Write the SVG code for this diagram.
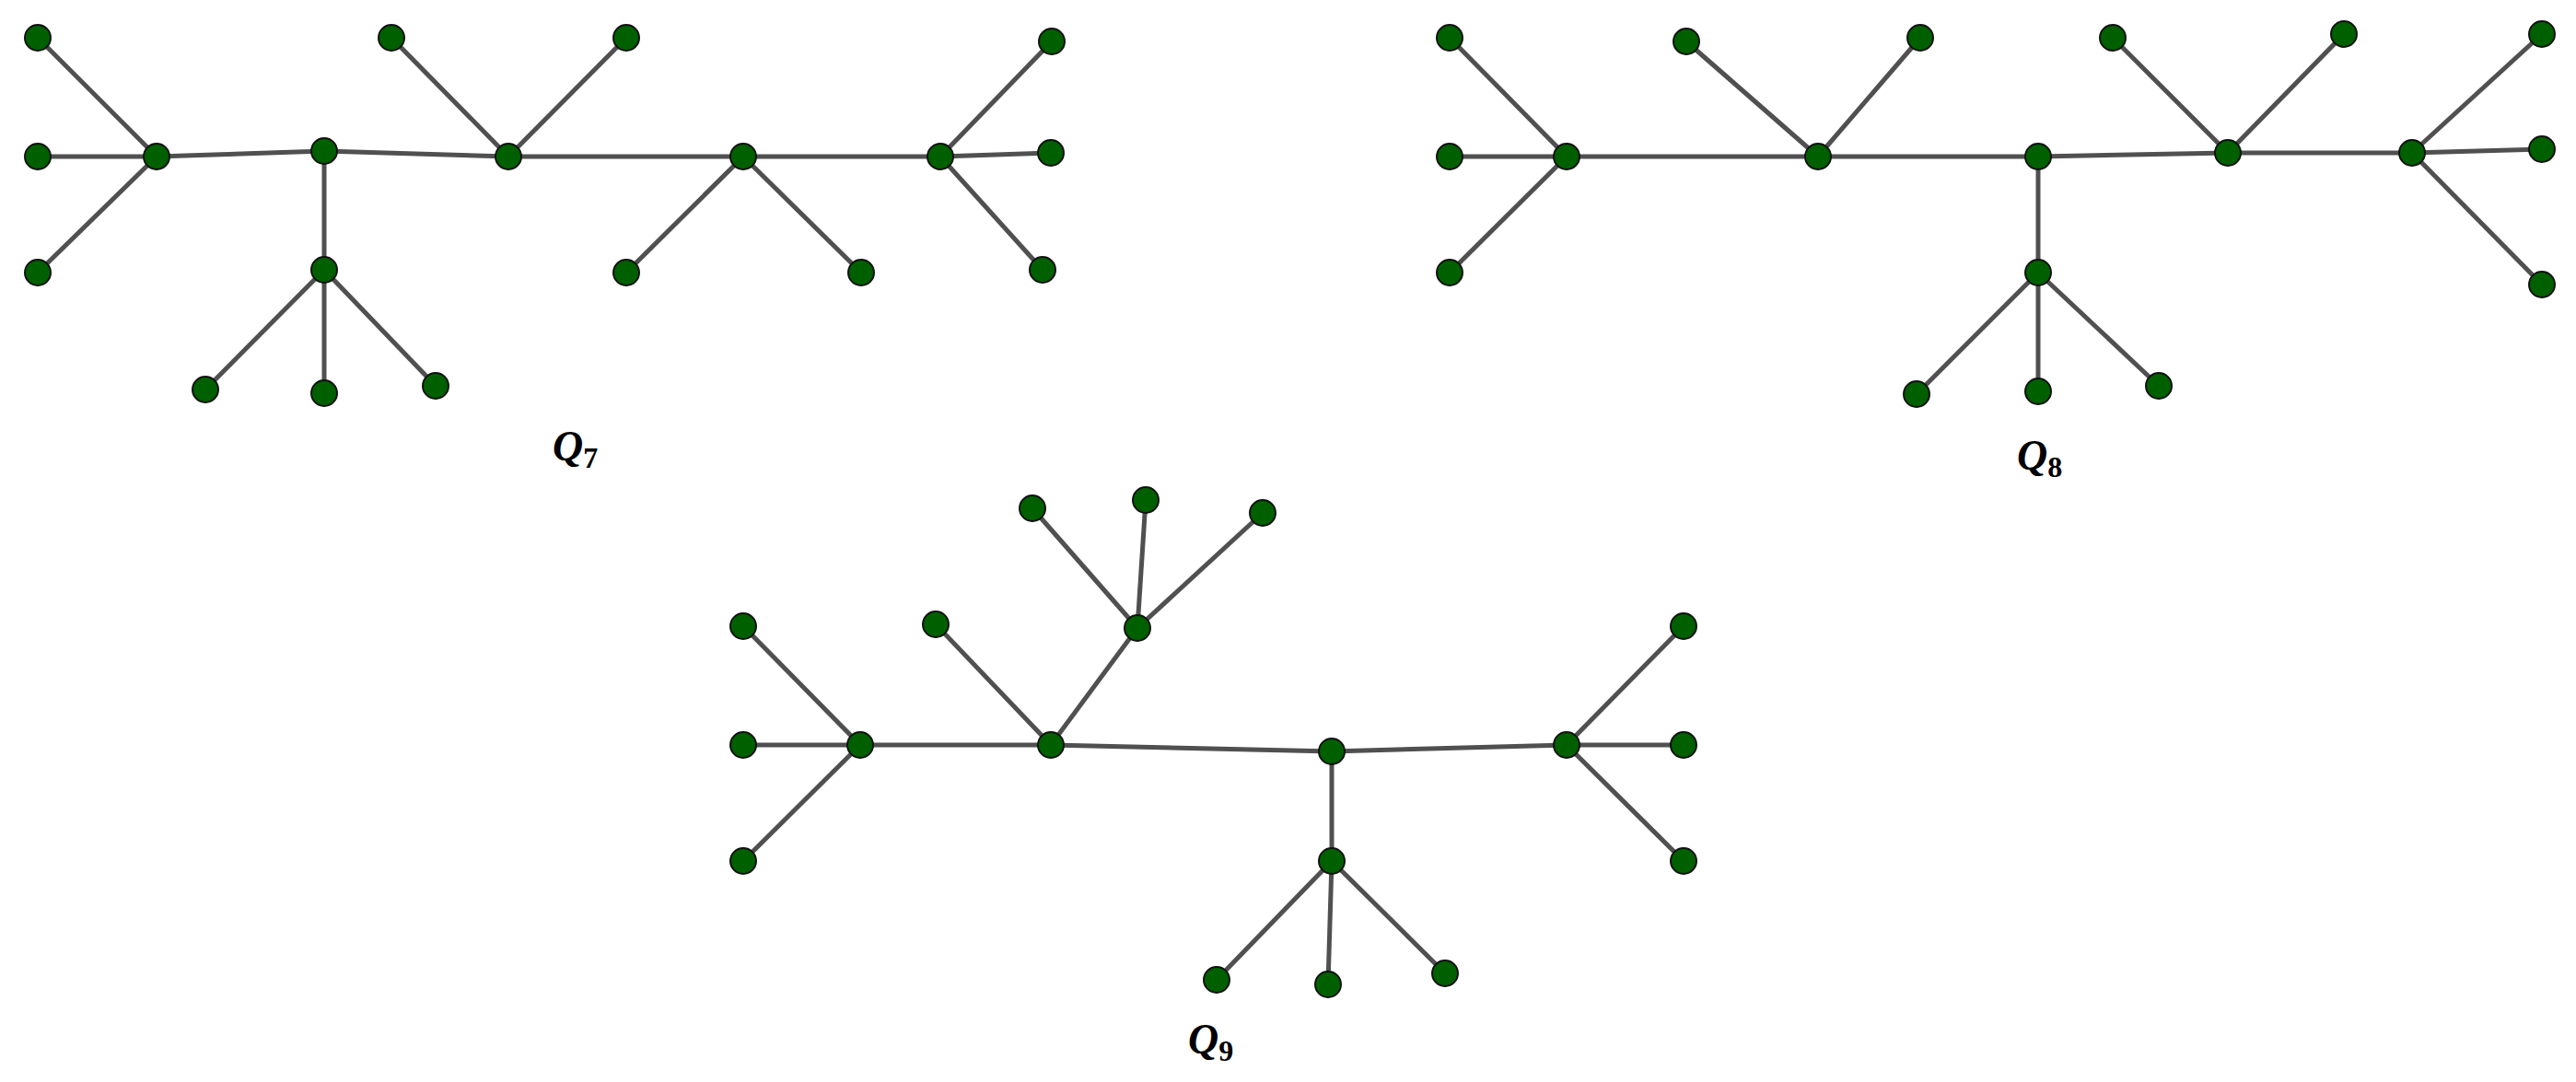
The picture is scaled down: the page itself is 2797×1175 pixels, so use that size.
<svg xmlns="http://www.w3.org/2000/svg" width="2797" height="1175" viewBox="0 0 2797 1175">
<style>
line{stroke:#505050;stroke-width:5}
circle{fill:#006000;stroke:#111;stroke-width:2}
text{font-family:"Liberation Serif",serif;font-size:46px;font-style:italic;font-weight:bold;fill:#000}
.s{font-size:32px;font-style:normal;font-weight:bold}
</style>
<rect width="2797" height="1175" fill="#fff"/>
<g id="connectors">
<!-- Q7 -->
<line x1="41" y1="41" x2="170" y2="170"/><line x1="41" y1="170" x2="170" y2="170"/><line x1="41" y1="296" x2="170" y2="170"/>
<line x1="170" y1="170" x2="352" y2="164"/><line x1="352" y1="164" x2="552" y2="170"/><line x1="552" y1="170" x2="807" y2="170"/><line x1="807" y1="170" x2="1021" y2="170"/>
<line x1="352" y1="164" x2="352" y2="293"/><line x1="352" y1="293" x2="223" y2="423"/><line x1="352" y1="293" x2="352" y2="427"/><line x1="352" y1="293" x2="473" y2="419"/>
<line x1="552" y1="170" x2="425" y2="41"/><line x1="552" y1="170" x2="680" y2="41"/>
<line x1="807" y1="170" x2="680" y2="296"/><line x1="807" y1="170" x2="935" y2="296"/>
<line x1="1021" y1="170" x2="1142" y2="45"/><line x1="1021" y1="170" x2="1141" y2="166"/><line x1="1021" y1="170" x2="1132" y2="293"/>
<!-- Q8 -->
<line x1="1574" y1="41" x2="1701" y2="170"/><line x1="1574" y1="170" x2="1701" y2="170"/><line x1="1574" y1="296" x2="1701" y2="170"/>
<line x1="1701" y1="170" x2="1974" y2="170"/><line x1="1974" y1="170" x2="2213" y2="170"/><line x1="2213" y1="170" x2="2419" y2="166"/><line x1="2419" y1="166" x2="2619" y2="166"/>
<line x1="1974" y1="170" x2="1831" y2="45"/><line x1="1974" y1="170" x2="2085" y2="41"/>
<line x1="2213" y1="170" x2="2213" y2="296"/><line x1="2213" y1="296" x2="2081" y2="428"/><line x1="2213" y1="296" x2="2213" y2="425"/><line x1="2213" y1="296" x2="2344" y2="419"/>
<line x1="2419" y1="166" x2="2294" y2="41"/><line x1="2419" y1="166" x2="2545" y2="37"/>
<line x1="2619" y1="166" x2="2760" y2="37"/><line x1="2619" y1="166" x2="2760" y2="162"/><line x1="2619" y1="166" x2="2760" y2="309"/>
<!-- Q9 -->
<line x1="807" y1="680" x2="934" y2="809"/><line x1="807" y1="809" x2="934" y2="809"/><line x1="807" y1="935" x2="934" y2="809"/>
<line x1="934" y1="809" x2="1141" y2="809"/><line x1="1141" y1="809" x2="1446" y2="816"/><line x1="1446" y1="816" x2="1701" y2="809"/>
<line x1="1141" y1="809" x2="1016" y2="678"/><line x1="1141" y1="809" x2="1235" y2="682"/>
<line x1="1235" y1="682" x2="1121" y2="552"/><line x1="1235" y1="682" x2="1244" y2="543"/><line x1="1235" y1="682" x2="1371" y2="557"/>
<line x1="1446" y1="816" x2="1446" y2="935"/><line x1="1446" y1="935" x2="1321" y2="1064"/><line x1="1446" y1="935" x2="1442" y2="1069"/><line x1="1446" y1="935" x2="1569" y2="1057"/>
<line x1="1701" y1="809" x2="1828" y2="680"/><line x1="1701" y1="809" x2="1828" y2="809"/><line x1="1701" y1="809" x2="1828" y2="935"/>
</g>
<g id="Q7">
<circle cx="41" cy="41" r="14"/><circle cx="41" cy="170" r="14"/><circle cx="41" cy="296" r="14"/><circle cx="170" cy="170" r="14"/>
<circle cx="352" cy="164" r="14"/><circle cx="352" cy="293" r="14"/><circle cx="223" cy="423" r="14"/><circle cx="352" cy="427" r="14"/><circle cx="473" cy="419" r="14"/>
<circle cx="552" cy="170" r="14"/><circle cx="425" cy="41" r="14"/><circle cx="680" cy="41" r="14"/>
<circle cx="807" cy="170" r="14"/><circle cx="680" cy="296" r="14"/><circle cx="935" cy="296" r="14"/>
<circle cx="1021" cy="170" r="14"/><circle cx="1142" cy="45" r="14"/><circle cx="1141" cy="166" r="14"/><circle cx="1132" cy="293" r="14"/>
<text x="600" y="500">Q<tspan class="s" dy="8">7</tspan></text>
</g>
<g id="Q8">
<circle cx="1574" cy="41" r="14"/><circle cx="1574" cy="170" r="14"/><circle cx="1574" cy="296" r="14"/><circle cx="1701" cy="170" r="14"/>
<circle cx="1974" cy="170" r="14"/><circle cx="1831" cy="45" r="14"/><circle cx="2085" cy="41" r="14"/>
<circle cx="2213" cy="170" r="14"/><circle cx="2213" cy="296" r="14"/><circle cx="2081" cy="428" r="14"/><circle cx="2213" cy="425" r="14"/><circle cx="2344" cy="419" r="14"/>
<circle cx="2419" cy="166" r="14"/><circle cx="2294" cy="41" r="14"/><circle cx="2545" cy="37" r="14"/>
<circle cx="2619" cy="166" r="14"/><circle cx="2760" cy="37" r="14"/><circle cx="2760" cy="162" r="14"/><circle cx="2760" cy="309" r="14"/>
<text x="2190" y="510">Q<tspan class="s" dy="8">8</tspan></text>
</g>
<g id="Q9">
<circle cx="807" cy="680" r="14"/><circle cx="807" cy="809" r="14"/><circle cx="807" cy="935" r="14"/><circle cx="934" cy="809" r="14"/>
<circle cx="1141" cy="809" r="14"/><circle cx="1016" cy="678" r="14"/><circle cx="1235" cy="682" r="14"/><circle cx="1121" cy="552" r="14"/><circle cx="1244" cy="543" r="14"/><circle cx="1371" cy="557" r="14"/>
<circle cx="1446" cy="816" r="14"/><circle cx="1446" cy="935" r="14"/><circle cx="1321" cy="1064" r="14"/><circle cx="1442" cy="1069" r="14"/><circle cx="1569" cy="1057" r="14"/>
<circle cx="1701" cy="809" r="14"/><circle cx="1828" cy="680" r="14"/><circle cx="1828" cy="809" r="14"/><circle cx="1828" cy="935" r="14"/>
<text x="1290" y="1144">Q<tspan class="s" dy="8">9</tspan></text>
</g>
</svg>
